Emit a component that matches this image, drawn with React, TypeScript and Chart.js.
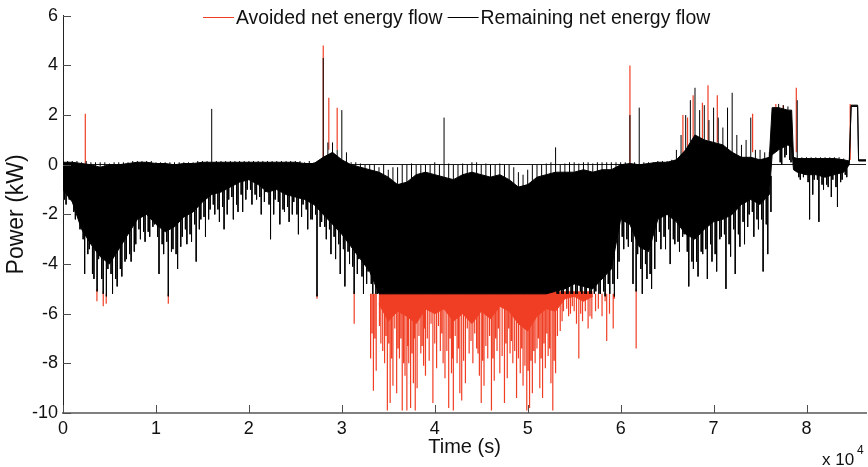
import React, { useEffect, useRef } from 'react';
import { Chart, registerables } from 'chart.js';

Chart.register(...registerables);

// ---- data ----
// sample times (s) of the envelope of the dense power signal
const TIME_S = [
  0, 1000, 2000, 3000, 4000, 5000, 6000, 7000, 8000, 9000,
  10000, 11000, 12000, 13000, 14000, 15000, 16000, 17000, 18000, 19000,
  20000, 21000, 22000, 23000, 24000, 25000, 26000, 27000, 28000, 29000,
  30000, 31000, 32000, 33000, 34000, 35000, 36000, 37000, 38000, 39000,
  40000, 41000, 42000, 43000, 44000, 45000, 46000, 47000, 48000, 49000,
  50000, 51000, 52000, 53000, 54000, 55000, 56000, 57000, 58000, 59000,
  60000, 61000, 62000, 63000, 64000, 65000, 66000, 67000, 68000, 69000,
  70000, 71000, 72000, 73000, 74000, 75000, 76000, 76300, 77000, 78000, 78400, 78600, 79000, 80000, 81000, 82000, 83000, 84000, 84600, 84800, 85500, 85600, 86400,
];

// remaining net energy flow: upper / lower edge of the dense band (kW)
const CORE_TOP = [
  0.1, 0.1, 0.05, 0.0, -0.1, 0.0, 0.0, 0.05, 0.1, 0.1,
  0.05, 0.05, 0.0, 0.05, 0.05, 0.1, 0.1, 0.1, 0.1, 0.1,
  0.1, 0.1, 0.1, 0.1, 0.1, 0.1, 0.05, 0.05, 0.3, 0.5,
  0.2, 0.0, -0.1, -0.2, -0.3, -0.5, -0.8, -0.7, -0.4, -0.3,
  -0.4, -0.5, -0.6, -0.4, -0.3, -0.4, -0.5, -0.4, -0.6, -0.9,
  -0.8, -0.5, -0.4, -0.3, -0.3, -0.3, -0.2, -0.3, -0.2, -0.2,
  0.0, 0.05, 0.0, 0.05, 0.1, 0.1, 0.2, 0.6, 1.2, 1.0,
  0.9, 0.8, 0.5, 0.3, 0.3, 0.2, 0.3, 2.3, 2.3, 2.2, 2.2, 0.3, 0.25, 0.25, 0.25, 0.25, 0.25, 0.2, 0.15, 2.4, 2.4, 0.2, 0.2,
];
const CORE_BOTTOM = [
  -1.0, -1.5, -2.6, -3.2, -3.7, -4.0, -3.4, -2.8, -2.2, -2.0,
  -2.4, -2.7, -2.5, -2.1, -1.9, -1.5, -1.2, -1.1, -0.9, -0.7,
  -0.6, -0.8, -1.1, -1.0, -1.2, -1.3, -1.4, -1.6, -2.0, -2.4,
  -2.8, -3.3, -3.8, -4.3, -5.2, -5.2, -5.2, -5.2, -5.2, -5.2,
  -5.2, -5.2, -5.2, -5.2, -5.2, -5.2, -5.2, -5.2, -5.2, -5.2,
  -5.2, -5.2, -5.2, -5.1, -5.0, -4.8, -4.9, -5.0, -4.6, -4.2,
  -2.2, -2.4, -3.3, -3.5, -2.2, -2.0, -2.3, -2.8, -3.0, -2.6,
  -2.3, -2.2, -2.0, -1.6, -1.4, -1.6, -1.2, 0.4, 0.6, 0.8, 0.7, -0.2, -0.3, -0.4, -0.4, -0.5, -0.4, -0.3, 0.0, 2.35, 2.35, 0.15, 0.15,
];
// isolated peaks of the remaining flow in each interval (kW)
const SPIKE_UP = [
  0.15, 0.15, 0.1, 0.1, 0.1, 0.05, 0.1, 0.1, 0.15, 0.15,
  0.1, 0.1, 0.1, 0.1, 0.1, 0.15, 2.25, 0.15, 0.15, 0.15,
  0.15, 0.15, 0.15, 0.15, 0.15, 0.15, 0.1, 0.1, 4.3, 0.9,
  2.2, 0.1, 0.05, 0.0, -0.1, -0.2, -0.1, 0.0, 0.0, 0.0,
  0.1, 1.9, 0.0, 0.05, 0.1, 0.0, 0.0, 0.05, 0.0, -0.3,
  -0.2, 0.0, 0.05, 0.7, 0.05, 0.1, 0.1, 0.05, 0.1, 0.1,
  0.1, 2.0, 2.3, 0.1, 0.15, 0.15, 0.6, 2.0, 3.1, 2.4,
  2.3, 1.5, 2.9, 0.8, 1.9, 0.6, 0.5, null, 2.45, 2.35, null, null, 2.6, 0.3, 0.3, 0.3, 0.3, 0.25, null, null, null, null, null,
];
const SPIKE_UP_B = [
  0.15, 0.15, 0.15, 0.1, 0.1, 0.1, 0.1, 0.15, 0.15, 0.15,
  0.1, 0.1, 0.1, 0.1, 0.15, 0.15, 0.15, 0.15, 0.15, 0.15,
  0.15, 0.15, 0.15, 0.15, 0.15, 0.15, 0.15, 0.1, 0.9, 0.6,
  0.5, 0.1, 0.0, 0.0, 0.0, -0.1, 0.0, 0.05, 0.0, 0.0,
  0.0, 0.05, 0.0, 0.0, 0.1, 0.05, 0.0, 0.0, -0.1, -0.4,
  0.0, 0.0, 0.1, 0.0, 0.1, 0.05, 0.1, 0.1, 0.1, 0.1,
  0.1, 0.1, 0.1, 0.1, 0.15, 0.2, 1.2, 2.6, 2.2, 1.8,
  1.9, 2.3, 1.2, 1.0, 0.6, 0.5, null, null, 2.4, null, null, null, 0.3, 0.3, 0.3, 0.3, 0.3, null, null, null, null, null, null,
];
const SPIKE_DOWN_A = [
  -1.6, -2.2, -4.4, -4.6, -5.2, -5.2, -4.5, -3.9, -3.0, -2.9,
  -4.4, -5.3, -4.2, -3.2, -3.9, -2.9, -2.0, -2.6, -2.2, -1.9,
  -1.6, -2.0, -3.0, -2.4, -2.3, -2.8, -2.6, -5.3, -3.0, -3.8,
  -4.9, -5.2, -5.2, -5.2, null, null, null, null, null, null,
  null, null, null, null, null, null, null, null, null, null,
  null, null, null, -5.2, -5.2, -5.2, -5.2, -5.1, -5.3, -5.3,
  -3.4, -4.8, -5.2, -5.0, -3.4, -4.0, -3.5, -4.9, -4.5, -4.6,
  -4.3, -5.0, -4.4, -3.2, -2.9, -4.3, null, null, 0.0, 0.1, null, null, -0.6, -2.2, -2.3, -0.9, -1.7, -0.5, null, null, null, null, null,
];
const SPIKE_DOWN_B = [
  -1.4, -1.8, -3.6, -5.1, -5.3, -4.6, -3.9, -3.5, -2.7, -2.5,
  -3.2, -3.5, -3.3, -2.8, -2.6, -2.2, -1.8, -2.0, -1.6, -1.4,
  -1.2, -1.5, -2.0, -1.8, -2.0, -2.1, -2.2, -2.5, -2.6, -3.2,
  -3.5, -4.4, -4.8, -5.2, null, null, null, null, null, null,
  null, null, null, null, null, null, null, null, null, null,
  null, null, null, -5.2, -5.2, -5.1, -5.2, -5.2, -4.8, -4.6,
  -3.0, -5.1, -4.0, -4.2, -2.9, -3.0, -2.9, -3.9, -3.5, -3.2,
  -3.0, -3.2, -2.8, -2.5, -2.2, -2.4, null, null, 0.3, null, null, null, -0.5, -1.2, -0.8, -1.3, -0.7, null, null, null, null, null, null,
];
const SPIKE_DOWN_C = [
  -1.4, -1.9, -3.0, -4.4, -4.6, -4.4, -4.2, -3.6, -2.6, -2.7,
  -2.9, -3.1, -3.6, -2.6, -2.4, -2.1, -1.6, -1.7, -1.3, -1.2,
  -1.0, -1.3, -1.6, -1.5, -1.7, -2.0, -1.8, -2.0, -2.5, -2.9,
  -3.4, -4.1, -4.5, -4.8, null, null, null, null, null, null,
  null, null, null, null, null, null, null, null, null, null,
  null, null, null, -5.2, -5.2, -5.2, -5.2, -5.2, -5.1, -4.8,
  -2.9, -3.1, -4.2, -4.4, -2.7, -2.6, -3.1, -3.5, -3.9, -3.4,
  -3.6, -2.8, -2.6, -2.3, -1.9, -2.2, -1.9, null, 0.1, 0.2, null, null, -0.5, -0.7, -0.6, -0.8, -0.9, -0.4, null, null, null, null, null,
];
const SPIKE_DOWN_D = [
  -1.2, -2.6, -3.4, -3.8, -4.2, -4.9, -3.8, -3.2, -3.1, -2.4,
  -3.6, -3.4, -2.9, -3.1, -2.2, -1.8, -2.3, -1.4, -1.9, -1.0,
  -1.4, -1.1, -1.4, -1.9, -1.5, -1.6, -2.2, -2.3, -3.6, -4.4,
  -4.0, -3.8, -4.3, -5.2, null, null, null, null, null, null,
  null, null, null, null, null, null, null, null, null, null,
  null, null, null, -5.2, -5.2, -5.2, -5.2, -5.2, -5.2, -3.9,
  -3.3, -3.6, -4.6, -3.1, -3.4, -3.2, -2.8, -4.2, -3.6, -3.9,
  -2.9, -3.7, -3.3, -2.0, -2.6, -3.6, null, null, 0.4, null, null, null, -0.4, -0.6, -1.0, -0.6, -0.6, null, null, null, null, null, null,
];
// avoided net energy flow: lower edge of the dense part below the -5.2 kW limit
const AVOIDED_CORE_BOTTOM = [
  null, null, null, null, null, null, null, null, null, null,
  null, null, null, null, null, null, null, null, null, null,
  null, null, null, null, null, null, null, null, null, null,
  null, null, null, null, -5.6, -6.3, -5.9, -6.1, -6.4, -5.8,
  -6.0, -5.8, -6.3, -6.0, -6.4, -5.9, -6.2, -5.7, -5.9, -6.4,
  -6.7, -6.1, -5.8, -5.9, -5.4, -5.3, -5.5, -5.3, null, null,
  null, null, null, null, null, null, null, null, null, null,
  null, null, null, null, null, null, null, null, null, null, null, null, null, null, null, null, null, null, null, null, null, null, null,
];
// avoided peaks: [time s, from kW, to kW]
const AVOIDED_SPIKES = [
  [2400, 0.0, 2.05], [3650, -5.0, -5.5], [4330, -5.1, -5.7], [4650, -5.2, -5.6],
  [11330, -5.2, -5.6], [27330, -5.2, -5.4], [28000, 0.0, 4.8], [28600, 0.6, 2.7],
  [29500, 0.6, 2.3], [31330, -5.1, -6.4],
  [33100, -5.2, -7.8], [33400, -5.2, -9.1], [33700, -5.2, -8.3], [34200, -5.2, -7.2],
  [34600, -5.2, -8.0], [34900, -5.2, -9.9], [35200, -5.2, -9.6], [35500, -5.2, -8.9],
  [35900, -5.2, -9.2], [36200, -5.2, -7.8], [36500, -5.2, -9.9], [36800, -5.2, -8.5],
  [37000, -5.2, -9.9], [37200, -5.2, -8.0], [37400, -5.2, -9.8], [37700, -5.2, -8.8],
  [37900, -5.2, -9.9], [38100, -5.2, -9.0], [38500, -5.2, -7.6], [38800, -5.2, -8.1],
  [39000, -5.2, -8.5], [39400, -5.2, -7.9], [39800, -5.2, -9.6], [40200, -5.2, -8.2],
  [40600, -5.2, -7.5], [40900, -5.2, -8.0], [41100, -5.2, -8.6], [41500, -5.2, -9.8],
  [41800, -5.2, -8.4], [42000, -5.2, -9.9], [42400, -5.2, -8.0], [42700, -5.2, -9.2],
  [42900, -5.2, -9.5], [43300, -5.2, -8.8], [43700, -5.2, -7.6], [44100, -5.2, -8.0],
  [44500, -5.2, -7.4], [44800, -5.2, -8.5], [45000, -5.2, -9.6], [45300, -5.2, -8.9],
  [45700, -5.2, -7.8], [46100, -5.2, -9.9], [46400, -5.2, -8.7], [46700, -5.2, -7.5],
  [47000, -5.2, -8.4], [47500, -5.2, -9.6], [47800, -5.2, -8.6], [48100, -5.2, -7.6],
  [48400, -5.2, -8.0], [48800, -5.2, -9.4], [49200, -5.2, -8.4], [49500, -5.2, -8.9],
  [49900, -5.2, -9.9], [50200, -5.2, -9.8], [50500, -5.2, -9.2], [50800, -5.2, -8.0],
  [51000, -5.2, -7.4], [51300, -5.2, -9.0], [51600, -5.2, -9.4], [51900, -5.2, -8.2],
  [52200, -5.2, -7.7], [52500, -5.2, -8.8], [52700, -5.2, -9.9], [53000, -5.2, -8.4],
  [53500, -5.2, -6.7], [53700, -5.2, -6.3], [54200, -5.2, -5.8], [54600, -5.2, -6.0],
  [55000, -5.2, -5.9], [55500, -5.2, -7.8], [55900, -5.2, -6.3], [56500, -5.2, -6.6],
  [56900, -5.2, -6.2], [57300, -5.2, -5.9], [58330, -5.2, -5.5], [58500, -5.2, -7.1],
  [59200, -5.2, -6.6], [59330, -5.2, -5.4], [61000, 0.0, 4.0], [61670, -5.0, -7.4],
  [66700, 0.3, 2.0], [67200, 0.5, 1.9], [67800, 0.8, 2.8], [68800, 1.0, 2.5],
  [69400, 1.0, 3.2], [70400, 0.9, 2.8], [74200, 0.5, 2.05], [76700, 1.5, 2.45],
  [77500, 1.5, 2.4], [78900, 0.5, 3.1], [84700, 0.2, 2.45],
  // intermediate avoided peaks in the clipped period
  [33250, -5.2, -6.8], [33550, -5.2, -7.0], [34050, -5.2, -6.5], [34400, -5.2, -7.5],
  [34750, -5.2, -6.9], [35050, -5.2, -7.2], [35350, -5.2, -7.8], [35700, -5.2, -6.6],
  [36050, -5.2, -7.4], [36350, -5.2, -7.0], [36650, -5.2, -8.0], [37100, -5.2, -7.3],
  [37550, -5.2, -7.6], [37800, -5.2, -7.0], [38300, -5.2, -6.9], [38650, -5.2, -7.3],
  [38900, -5.2, -6.6], [39200, -5.2, -7.0], [39600, -5.2, -6.4], [40000, -5.2, -7.2],
  [40400, -5.2, -6.5], [40750, -5.2, -6.8], [41300, -5.2, -7.5], [41650, -5.2, -7.0],
  [41900, -5.2, -7.8], [42200, -5.2, -6.9], [42550, -5.2, -7.4], [43100, -5.2, -7.9],
  [43500, -5.2, -6.6], [43900, -5.2, -7.1], [44300, -5.2, -6.8], [44650, -5.2, -7.6],
  [45150, -5.2, -7.9], [45500, -5.2, -7.3], [45900, -5.2, -6.9], [46250, -5.2, -7.8],
  [46550, -5.2, -7.0], [46850, -5.2, -6.6], [47250, -5.2, -7.7], [47650, -5.2, -7.2],
  [47950, -5.2, -6.6], [48250, -5.2, -7.1], [48600, -5.2, -7.5], [49000, -5.2, -7.8],
  [49350, -5.2, -7.4], [49700, -5.2, -8.1], [50050, -5.2, -8.3], [50350, -5.2, -7.9],
  [50650, -5.2, -7.5], [51150, -5.2, -7.0], [51450, -5.2, -7.8], [51750, -5.2, -7.2],
  [52050, -5.2, -6.8], [52350, -5.2, -7.4], [52850, -5.2, -7.9], [53200, -5.2, -6.9],
  [53850, -5.2, -5.9], [54400, -5.2, -6.1], [54800, -5.2, -5.7], [55250, -5.2, -6.4],
  [55700, -5.2, -6.0], [56200, -5.2, -5.9], [56700, -5.2, -6.1], [57600, -5.2, -5.8],
  [58000, -5.2, -6.1], [58800, -5.2, -6.0],
];

const X_TICKS_S = [0, 10000, 20000, 30000, 40000, 50000, 60000, 70000, 80000];
const Y_TICKS_KW = [-10, -8, -6, -4, -2, 0, 2, 4, 6];
const X_EXPONENT = 4;

const SERIES_AVOIDED = 'Avoided net energy flow';
const SERIES_REMAINING = 'Remaining net energy flow';

// offsets (s) of the peaks inside each sample interval
const DOWN_C_OFFSET = 170;
const DOWN_A_OFFSET = 330;
const UP_B_OFFSET = 500;
const DOWN_B_OFFSET = 670;
const DOWN_D_OFFSET = 830;

const RED = 'rgb(240,62,36)';
const BLACK = '#000000';
const FONT = '"Liberation Sans", Arial, Helvetica, sans-serif';

function buildRemainingSpikes() {
  const pts: { x: number; y: number | null }[] = [];
  TIME_S.forEach((t, i) => {
    const m = (CORE_TOP[i] + CORE_BOTTOM[i]) / 2;
    const add = (x: number, v: number | null) => {
      if (v === null || v === undefined) return;
      pts.push({ x, y: m }, { x, y: v }, { x, y: null });
    };
    add(t, SPIKE_UP[i]);
    add(t + DOWN_C_OFFSET, SPIKE_DOWN_C[i]);
    add(t + DOWN_A_OFFSET, SPIKE_DOWN_A[i]);
    add(t + UP_B_OFFSET, SPIKE_UP_B[i]);
    add(t + DOWN_B_OFFSET, SPIKE_DOWN_B[i]);
    add(t + DOWN_D_OFFSET, SPIKE_DOWN_D[i]);
  });
  return pts;
}

function buildAvoidedSpikes() {
  const pts: { x: number; y: number | null }[] = [];
  [...AVOIDED_SPIKES]
    .sort((a, b) => a[0] - b[0])
    .forEach(([t, a, b]) => {
      pts.push({ x: t, y: a }, { x: t, y: b }, { x: t, y: null });
    });
  return pts;
}

const overlayPlugin = {
  id: 'matlabOverlay',
  afterDraw(chart: any) {
    const { ctx, chartArea, scales } = chart;
    const xs = scales.x;
    const ys = scales.y;
    ctx.save();
    // inward tick marks
    ctx.lineWidth = 1;
    ctx.strokeStyle = '#4d4d4d';
    Y_TICKS_KW.forEach((v) => {
      const py = Math.round(ys.getPixelForValue(v)) + 0.5;
      ctx.beginPath();
      ctx.moveTo(chartArea.left, py);
      ctx.lineTo(chartArea.left + 8, py);
      ctx.stroke();
    });
    X_TICKS_S.forEach((v) => {
      const px = Math.round(xs.getPixelForValue(v)) + 0.5;
      ctx.beginPath();
      ctx.moveTo(px, chartArea.bottom);
      ctx.lineTo(px, chartArea.bottom - 8);
      ctx.stroke();
    });
    // legend (no box, line samples)
    ctx.font = `19.4px ${FONT}`;
    ctx.textBaseline = 'middle';
    ctx.textAlign = 'left';
    let lx = 203;
    const ly = 17.5;
    const items = [
      { text: SERIES_AVOIDED, color: RED },
      { text: SERIES_REMAINING, color: BLACK },
    ];
    items.forEach((it) => {
      ctx.strokeStyle = it.color;
      ctx.lineWidth = 1;
      ctx.beginPath();
      ctx.moveTo(lx, ly);
      ctx.lineTo(lx + 31, ly);
      ctx.stroke();
      ctx.fillStyle = '#111';
      ctx.fillText(it.text, lx + 33, ly + 1);
      lx += 33 + ctx.measureText(it.text).width + 5;
    });
    // axis exponent
    ctx.textBaseline = 'alphabetic';
    ctx.font = `17px ${FONT}`;
    ctx.fillText('x 10', 822, 465);
    ctx.font = `12px ${FONT}`;
    ctx.fillText(String(X_EXPONENT), 857, 454);
    ctx.restore();
  },
};

export default function App() {
  const canvasRef = useRef<HTMLCanvasElement | null>(null);

  useEffect(() => {
    document.body.style.margin = '0';
    const canvas = canvasRef.current;
    if (!canvas) return;
    Chart.defaults.font.family = FONT;

    const chart = new Chart(canvas, {
      type: 'line',
      data: {
        datasets: [
          {
            label: SERIES_REMAINING,
            data: buildRemainingSpikes(),
            borderColor: BLACK,
            borderWidth: 1,
            pointRadius: 0,
            fill: false,
            spanGaps: false,
            tension: 0,
            order: 1,
          },
          {
            label: SERIES_AVOIDED,
            data: buildAvoidedSpikes(),
            borderColor: RED,
            borderWidth: 1.2,
            pointRadius: 0,
            fill: false,
            spanGaps: false,
            tension: 0,
            order: 4,
          },
          {
            label: 'remaining band top',
            data: TIME_S.map((t, i) => ({ x: t, y: CORE_TOP[i] })),
            borderColor: BLACK,
            borderWidth: 1,
            pointRadius: 0,
            fill: false,
            tension: 0,
            order: 2,
          },
          {
            label: 'remaining band bottom',
            data: TIME_S.map((t, i) => ({ x: t, y: CORE_BOTTOM[i] })),
            borderColor: BLACK,
            backgroundColor: BLACK,
            borderWidth: 1,
            pointRadius: 0,
            fill: '-1',
            tension: 0,
            order: 2,
          },
          {
            label: 'avoided band',
            data: TIME_S.map((t, i) => ({ x: t, y: AVOIDED_CORE_BOTTOM[i] })),
            borderColor: RED,
            backgroundColor: RED,
            borderWidth: 1,
            pointRadius: 0,
            fill: { value: -5.1 },
            spanGaps: false,
            tension: 0,
            order: 3,
          },
        ],
      },
      options: {
        animation: false,
        responsive: true,
        maintainAspectRatio: false,
        devicePixelRatio: 1,
        events: [],
        layout: { padding: { top: 15, right: 2, left: 0, bottom: 0 } },
        plugins: {
          legend: { display: false },
          tooltip: { enabled: false },
        },
        scales: {
          x: {
            type: 'linear',
            min: 0,
            max: 86400,
            afterFit: (s: any) => {
              s.height = 54;
            },
            afterBuildTicks: (s: any) => {
              s.ticks = X_TICKS_S.map((v) => ({ value: v }));
            },
            grid: { display: false, drawTicks: false },
            border: { display: true, color: '#808080', width: 2 },
            ticks: {
              autoSkip: false,
              maxRotation: 0,
              minRotation: 0,
              padding: 5,
              color: '#111',
              font: { size: 18 },
              callback: (v: any) => String(Math.round(Number(v) / Math.pow(10, X_EXPONENT))),
            },
            title: {
              display: true,
              text: 'Time (s)',
              color: '#111',
              font: { size: 20 },
              padding: { top: 0, bottom: 8 },
            },
          },
          y: {
            type: 'linear',
            min: -10,
            max: 6,
            afterFit: (s: any) => {
              s.width = 63;
            },
            grid: {
              drawTicks: false,
              lineWidth: 1,
              color: (c: any) => (c.tick && c.tick.value === 0 ? '#1a1a1a' : 'rgba(0,0,0,0)'),
            },
            border: { display: true, color: '#222', width: 1 },
            ticks: {
              stepSize: 2,
              padding: 5,
              color: '#111',
              font: { size: 18 },
            },
            title: {
              display: true,
              text: 'Power (kW)',
              color: '#111',
              font: { size: 23 },
              padding: { top: 3, bottom: 0 },
            },
          },
        },
      },
      plugins: [overlayPlugin],
    });

    return () => {
      chart.destroy();
    };
  }, []);

  return (
    <div style={{ position: 'relative', width: 868, height: 467 }}>
      <canvas ref={canvasRef} />
    </div>
  );
}
